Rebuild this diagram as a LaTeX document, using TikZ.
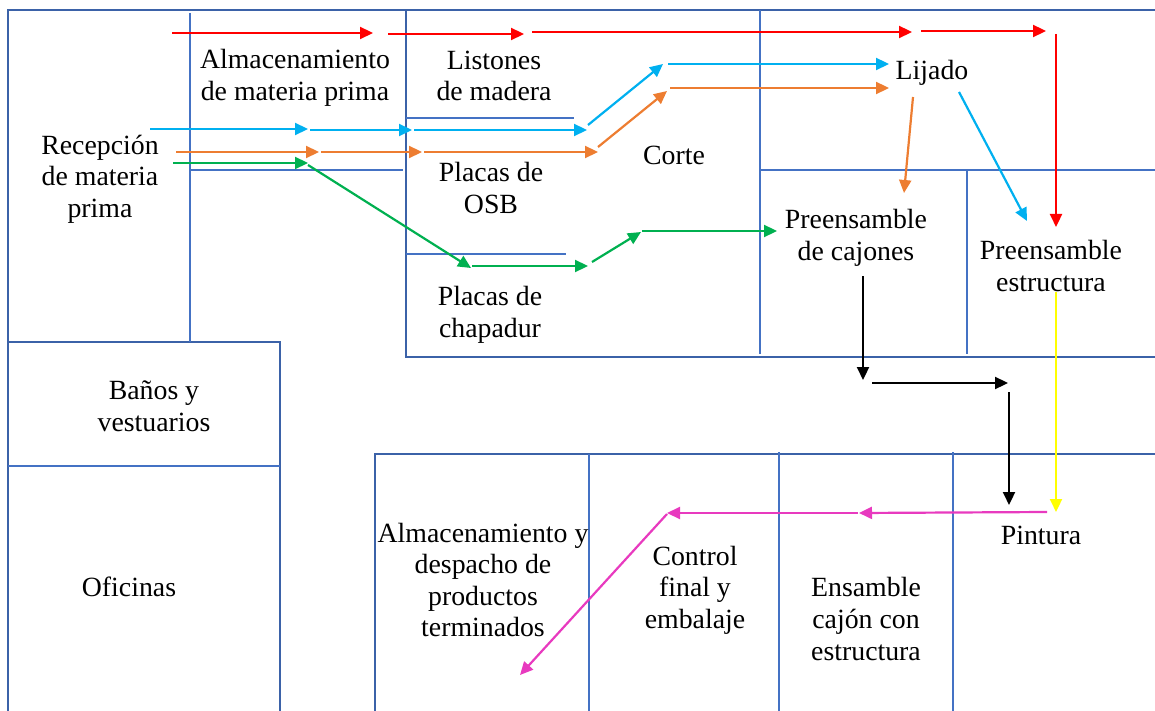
\documentclass[tikz,border=0pt]{standalone}
\usepackage{fontspec}
\setmainfont{Liberation Serif}
\usetikzlibrary{arrows.meta,positioning}
\definecolor{wallblue}{HTML}{3B62A8}
\definecolor{innerblue}{HTML}{4472C4}
\definecolor{flowred}{HTML}{FF0000}
\definecolor{flowcyan}{HTML}{00B0F0}
\definecolor{floworange}{HTML}{ED7D31}
\definecolor{flowgreen}{HTML}{00B050}
\definecolor{flowpink}{HTML}{E83ABF}
\definecolor{flowyellow}{HTML}{FFFF00}

\begin{document}
\begin{tikzpicture}[x=0.5pt,y=-0.5pt,
    wall/.style={draw=wallblue,line width=1pt},
    part/.style={draw=innerblue,line width=1pt},
    area/.style={align=center,inner sep=0pt,font=\fontsize{13.9}{15.8}\selectfont},
    flow/.style={line width=1.1pt,-{Triangle[length=6.5pt,width=6pt]}}]
    \useasboundingbox (0,0) rectangle (1155,711);

    % walls
    \draw[wall] (1155,10) -- (8,10) -- (8,711);
    \draw[wall] (8,342) -- (280,342) -- (280,711);
    \draw[part] (8,466) -- (280,466);
    \draw[part] (190,13) -- (190,342);
    \draw[part] (190,170) -- (403,170);
    \draw[wall] (406,10) -- (406,357) -- (1155,357);
    \draw[part] (406,118) -- (574,118);
    \draw[part] (406,254) -- (566,254);
    \draw[part] (760,10) -- (760,354);
    \draw[part] (760,170) -- (1155,170);
    \draw[part] (967,170) -- (967,354);
    \draw[wall] (375,711) -- (375,454) -- (1155,454);
    \draw[part] (589,454) -- (589,711);
    \draw[part] (779,452) -- (779,711);
    \draw[part] (953,452) -- (953,711);

    % areas
    \node[area] (recep) at (100,179) {Recepción\\de materia\\prima};
    \node[area] (almmp) at (295,78) {Almacenamiento\\de materia prima};
    \node[area] (liston) at (494,76) {Listones\\de madera};
    \node[area] (osb) at (491,188) {Placas de\\OSB};
    \node[area] (chapa) at (490,315) {Placas de\\chapadur};
    \node[area] (corte) at (674,155) {Corte};
    \node[area] (lijado) at (932,73) {Lijado};
    \node[area] (precaj) at (856,238) {Preensamble\\de cajones};
    \node[area] (preest) at (1051,266) {Preensamble\\estructura};
    \node[area] (banos) at (154,406) {Baños y\\vestuarios};
    \node[area] (ofic) at (129,587) {Oficinas};
    \node[area] (despacho) at (483,580) {Almacenamiento y\\despacho de\\productos\\terminados};
    \node[area] (control) at (695,590) {Control\\final y\\embalaje};
    \node[area] (ensamble) at (866,619) {Ensamble\\cajón con\\estructura};
    \node[area] (pintura) at (1041,535) {Pintura};

    % flow points
    \coordinate (r1) at (172,33);  \coordinate (r2) at (373,33);
    \coordinate (r3) at (388,34);  \coordinate (r4) at (524,34);
    \coordinate (r5) at (532,32);  \coordinate (r6) at (912,32);
    \coordinate (r7) at (921,31);  \coordinate (r8) at (1046,31);
    \coordinate (r9) at (1056,34); \coordinate (r10) at (1056,227);

    \coordinate (c1) at (150,129); \coordinate (c2) at (308,129);
    \coordinate (c3) at (310,130); \coordinate (c4) at (412,130);
    \coordinate (c5) at (414,130); \coordinate (c6) at (587,130);
    \coordinate (c7) at (588,125); \coordinate (c8) at (663,64);
    \coordinate (c9) at (668,64);  \coordinate (c10) at (889,64);
    \coordinate (c11) at (959,92); \coordinate (c12) at (1027,221);

    \coordinate (o1) at (176,152); \coordinate (o2) at (319,152);
    \coordinate (o3) at (321,152); \coordinate (o4) at (422,152);
    \coordinate (o5) at (424,152); \coordinate (o6) at (598,152);
    \coordinate (o7) at (598,147); \coordinate (o8) at (667,91);
    \coordinate (o9) at (670,88);  \coordinate (o10) at (889,88);
    \coordinate (o11) at (913,97); \coordinate (o12) at (904,193);

    \coordinate (g1) at (173,163); \coordinate (g2) at (308,163);
    \coordinate (g3) at (308,165); \coordinate (g4) at (471,268);
    \coordinate (g5) at (472,266); \coordinate (g6) at (588,266);
    \coordinate (g7) at (592,262); \coordinate (g8) at (641,232);
    \coordinate (g9) at (642,231); \coordinate (g10) at (777,231);

    \coordinate (k1) at (863,276); \coordinate (k2) at (863,380);
    \coordinate (k3) at (872,383); \coordinate (k4) at (1008,383);
    \coordinate (k5) at (1009,392); \coordinate (k6) at (1009,505);

    \coordinate (y1) at (1056,292); \coordinate (y2) at (1056,512);

    \coordinate (p1) at (1047,512); \coordinate (p2) at (859,513);
    \coordinate (p3) at (858,513);  \coordinate (p4) at (667,513);
    \coordinate (p5) at (667,514);  \coordinate (p6) at (520,675);

    % flows
    \foreach \a/\b in {r1/r2,r3/r4,r5/r6,r7/r8,r9/r10}
        \draw[flow,flowred] (\a) -- (\b);
    \foreach \a/\b in {c1/c2,c3/c4,c5/c6,c7/c8,c9/c10,c11/c12}
        \draw[flow,flowcyan] (\a) -- (\b);
    \foreach \a/\b in {o1/o2,o3/o4,o5/o6,o7/o8,o9/o10,o11/o12}
        \draw[flow,floworange] (\a) -- (\b);
    \foreach \a/\b in {g1/g2,g3/g4,g5/g6,g7/g8,g9/g10}
        \draw[flow,flowgreen] (\a) -- (\b);
    \foreach \a/\b in {k1/k2,k3/k4,k5/k6}
        \draw[flow,black] (\a) -- (\b);
    \draw[flow,flowyellow] (y1) -- (y2);
    \foreach \a/\b in {p1/p2,p3/p4,p5/p6}
        \draw[flow,flowpink] (\a) -- (\b);
\end{tikzpicture}
\end{document}
